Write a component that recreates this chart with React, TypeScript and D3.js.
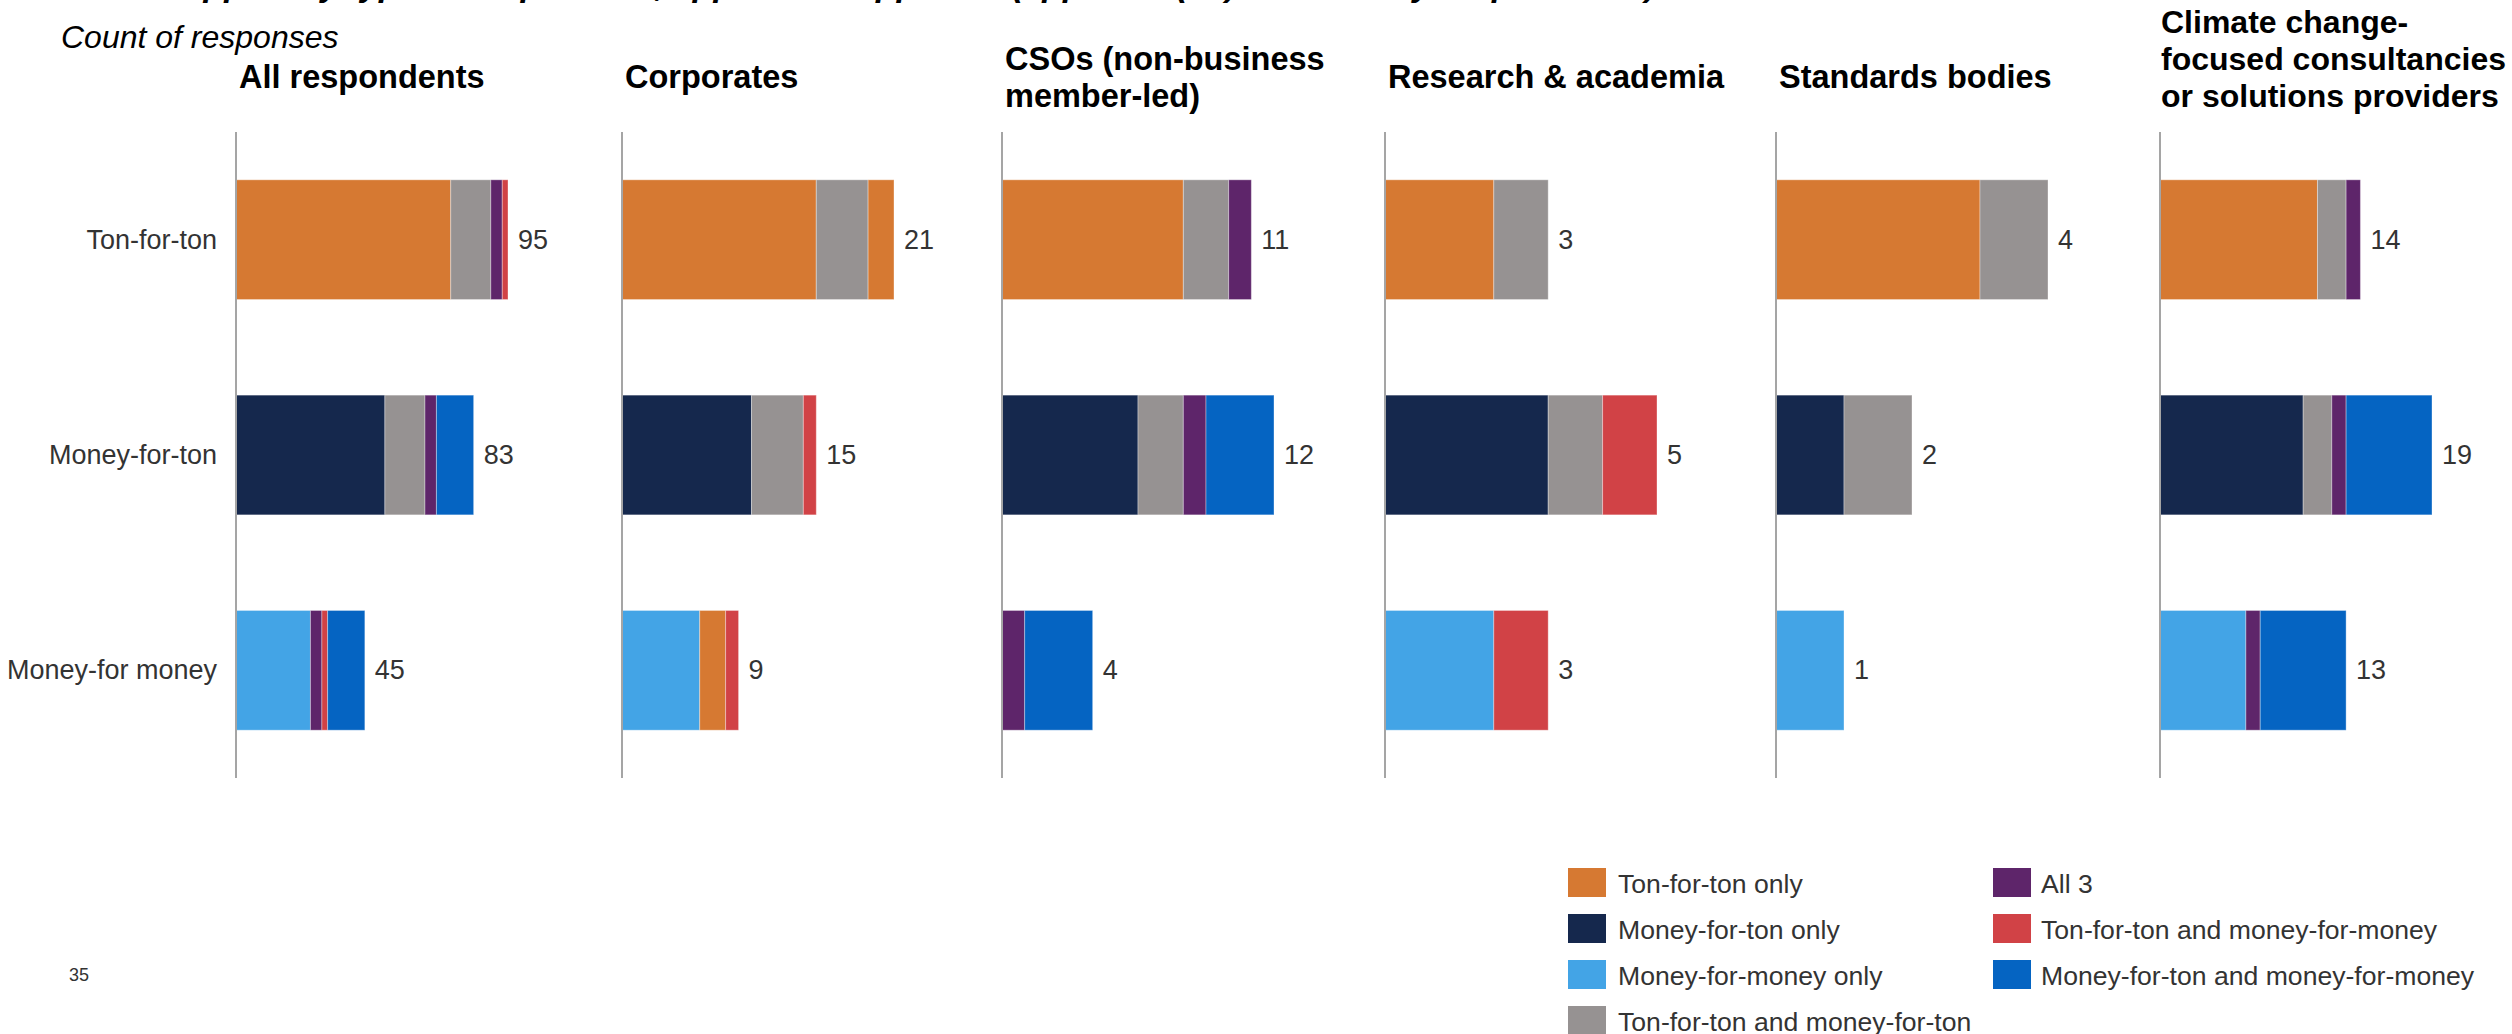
import React from "react";
import * as d3 from "d3";

// ---------- Data ----------
const CATEGORIES = ["Ton-for-ton", "Money-for-ton", "Money-for money"];

const SERIES_KEYS = ["tft", "mft", "mfm", "tft_mft", "all3", "tft_mfm", "mft_mfm"];
const SERIES_LABELS = [
  "Ton-for-ton only",
  "Money-for-ton only",
  "Money-for-money only",
  "Ton-for-ton and money-for-ton",
  "All 3",
  "Ton-for-ton and money-for-money",
  "Money-for-ton and money-for-money",
];
const SERIES_COLORS = ["#D67932", "#15284D", "#43A4E6", "#969292", "#5E256A", "#D14246", "#0564C2"];

const PANEL_TITLES = [
  ["All respondents"],
  ["Corporates"],
  ["CSOs (non-business", "member-led)"],
  ["Research & academia"],
  ["Standards bodies"],
  ["Climate change-", "focused consultancies", "or solutions providers"],
];

// each row: list of [series key, count]
const allRespondents = [
  [["tft", 75], ["tft_mft", 14], ["all3", 4], ["tft_mfm", 2]],
  [["mft", 52], ["tft_mft", 14], ["all3", 4], ["mft_mfm", 13]],
  [["mfm", 26], ["all3", 4], ["tft_mfm", 2], ["mft_mfm", 13]],
];
const corporates = [
  [["tft", 15], ["tft_mft", 4], ["tft", 2]],
  [["mft", 10], ["tft_mft", 4], ["tft_mfm", 1]],
  [["mfm", 6], ["tft", 2], ["tft_mfm", 1]],
];
const csos = [
  [["tft", 8], ["tft_mft", 2], ["all3", 1]],
  [["mft", 6], ["tft_mft", 2], ["all3", 1], ["mft_mfm", 3]],
  [["all3", 1], ["mft_mfm", 3]],
];
const research = [
  [["tft", 2], ["tft_mft", 1]],
  [["mft", 3], ["tft_mft", 1], ["tft_mfm", 1]],
  [["mfm", 2], ["tft_mfm", 1]],
];
const standards = [
  [["tft", 3], ["tft_mft", 1]],
  [["mft", 1], ["tft_mft", 1]],
  [["mfm", 1]],
];
const climate = [
  [["tft", 11], ["tft_mft", 2], ["all3", 1]],
  [["mft", 10], ["tft_mft", 2], ["all3", 1], ["mft_mfm", 6]],
  [["mfm", 6], ["all3", 1], ["mft_mfm", 6]],
];
const PANEL_DATA = [allRespondents, corporates, csos, research, standards, climate];

// ---------- Layout ----------
const W = 2512;
const H = 1034;
const PANEL_X = [236, 622, 1002, 1385, 1776, 2160];
const BAR_MAX_W = 272;
const FONT = "'Liberation Sans', Arial, Helvetica, sans-serif";

const color = d3.scaleOrdinal<string, string>().domain(SERIES_KEYS).range(SERIES_COLORS);
const y = d3.scaleBand<string>().domain(CATEGORIES).range([132, 778]).paddingInner(0.444).paddingOuter(0.222);

function Panel({ idx }: { idx: number }) {
  const rows = PANEL_DATA[idx] as [string, number][][];
  const x0 = PANEL_X[idx];
  const totals = rows.map((r) => d3.sum(r, (d) => d[1]));
  const x = d3.scaleLinear().domain([0, d3.max(totals) as number]).range([0, BAR_MAX_W]);
  const title = PANEL_TITLES[idx];
  const n = title.length;
  return (
    <g>
      {title.map((t, i) => (
        <text
          key={i}
          x={x0 + (n === 3 ? 1 : 3)}
          y={n === 1 ? 88 : 107 - (n - 1 - i) * 36.8}
          fontFamily={FONT}
          fontWeight="bold"
          fontSize={n === 3 ? 32 : 32.5}
          fill="#000"
        >
          {t}
        </text>
      ))}
      {rows.map((row, ri) => {
        const cat = CATEGORIES[ri];
        const yy = y(cat) as number;
        let acc = 0;
        const segs = row.map(([k, v], si) => {
          const s = acc;
          acc += v;
          return (
            <rect
              key={si}
              x={x0 + x(s)}
              y={yy}
              width={x(acc) - x(s)}
              height={y.bandwidth()}
              fill={color(k)}
              stroke="#ffffff"
              strokeOpacity={0.35}
              strokeWidth={1}
            />
          );
        });
        return (
          <g key={ri}>
            {segs}
            <text
              x={x0 + x(totals[ri]) + 10}
              y={yy + y.bandwidth() / 2}
              dominantBaseline="central"
              fontFamily={FONT}
              fontSize={27}
              fill="#333"
            >
              {totals[ri]}
            </text>
          </g>
        );
      })}
      <line x1={x0} x2={x0} y1={132} y2={778} stroke="#A5A5A5" strokeWidth={2} />
    </g>
  );
}

export default function App() {
  const legendCols = [
    { sx: 1568, tx: 1618, keys: [0, 1, 2, 3] },
    { sx: 1993, tx: 2041, keys: [4, 5, 6] },
  ];
  return (
    <svg
      width={W}
      height={H}
      viewBox={`0 0 ${W} ${H}`}
      style={{ position: "absolute", left: 0, top: 0, background: "#fff" }}
    >
      <rect x={0} y={0} width={W} height={H} fill="#fff" />
      <text x={160} y={-4} fontFamily={FONT} fontWeight="bold" fontStyle="italic" fontSize={34} fill="#000">
        Support by type of respondent, approach supported (approach(es) selected by respondents)
      </text>
      <text x={61} y={48} fontFamily={FONT} fontStyle="italic" fontSize={32} fill="#000">
        Count of responses
      </text>
      {CATEGORIES.map((c) => (
        <text
          key={c}
          x={217}
          y={(y(c) as number) + y.bandwidth() / 2}
          textAnchor="end"
          dominantBaseline="central"
          fontFamily={FONT}
          fontSize={27}
          fill="#333"
        >
          {c}
        </text>
      ))}
      {PANEL_DATA.map((_, i) => (
        <Panel key={i} idx={i} />
      ))}
      {legendCols.map((col, ci) =>
        col.keys.map((k, ri) => (
          <g key={`${ci}-${ri}`}>
            <rect x={col.sx} y={868 + ri * 46} width={38} height={29} fill={color(SERIES_KEYS[k])} />
            <text x={col.tx} y={868 + ri * 46 + 25} fontFamily={FONT} fontSize={26.6} fill="#333">
              {SERIES_LABELS[k]}
            </text>
          </g>
        ))
      )}
      <text x={69} y={981} fontFamily={FONT} fontSize={18} fill="#333">
        35
      </text>
    </svg>
  );
}
